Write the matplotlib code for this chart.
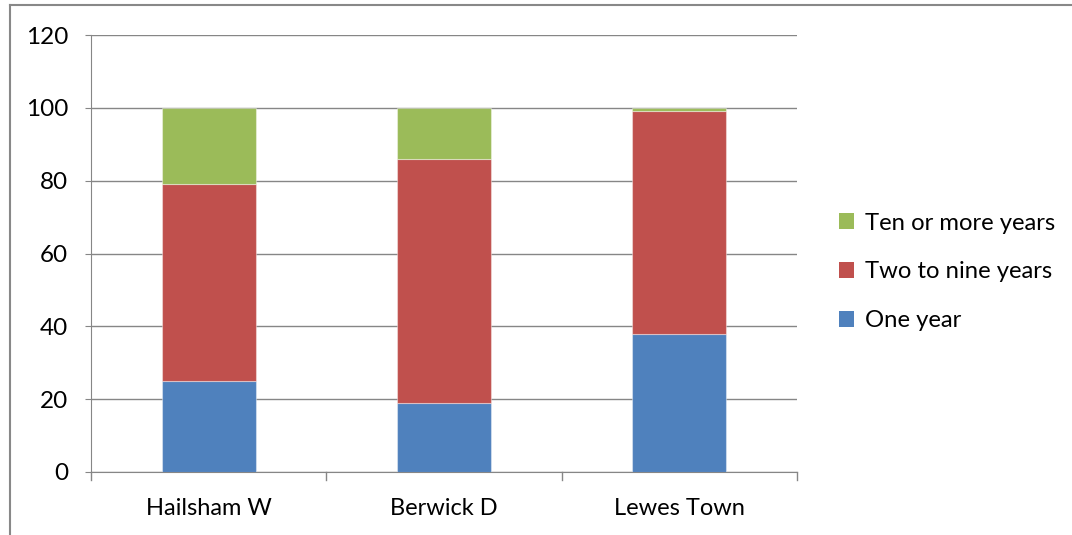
import matplotlib
matplotlib.use("Agg")
import matplotlib.pyplot as plt
from matplotlib.patches import Patch
from matplotlib.lines import Line2D

categories = ["Hailsham W", "Berwick D", "Lewes Town"]
one_year = [25, 19, 38]
two_to_nine = [54, 67, 61]
ten_or_more = [21, 14, 1]
series_names = ["One year", "Two to nine years", "Ten or more years"]
colors = ["#4F81BD", "#C0504D", "#9BBB59"]
yticks = [0, 20, 40, 60, 80, 100, 120]

plt.rcParams['font.family'] = ['Lato', 'DejaVu Sans']

fig = plt.figure(figsize=(10.72, 5.35), dpi=100)
ax = fig.add_axes([91/1072, 1-472/535, (797-91)/1072, (472-35)/535])

x = list(range(len(categories)))
bottom = [0]*len(categories)
for vals, name, c in zip([one_year, two_to_nine, ten_or_more], series_names, colors):
    ax.bar(x, vals, width=0.4, bottom=bottom, color=c, label=name, zorder=3,
           edgecolor=(1, 1, 1, 0.4), linewidth=0.8)
    bottom = [b + v for b, v in zip(bottom, vals)]

grid_c = "#868686"
ax.set_xlim(-0.5, len(categories) - 0.5)
ax.set_ylim(0, 120)
ax.set_yticks(yticks)
ax.set_yticklabels([str(t) for t in yticks], fontsize=17.5)
ax.yaxis.grid(True, color=grid_c, linewidth=1, zorder=0)
ax.set_axisbelow(True)
for s in ["top", "right"]:
    ax.spines[s].set_visible(False)
ax.spines["left"].set_color(grid_c)
ax.spines["bottom"].set_color(grid_c)
ax.tick_params(axis="y", length=4.3, color=grid_c, pad=12)
ax.set_xticks(x)
ax.set_xticklabels(categories, fontsize=17)
ax.tick_params(axis="x", length=0, pad=19)
# category boundary ticks
for b in [-0.5, 0.5, 1.5, 2.5]:
    ax.plot([b, b], [0, -2.2], color=grid_c, linewidth=1, clip_on=False, zorder=4)

handles = [Patch(facecolor=c, label=n) for c, n in zip(colors, series_names)][::-1]
fig.legend(handles=handles, loc="center left", bbox_to_anchor=(817/1072, 1-272/535),
           frameon=False, fontsize=17.2, handlelength=0.65, handleheight=0.65,
           labelspacing=1.17, handletextpad=0.45)

# outer frame fragments
fig.add_artist(Line2D([10/1072, 10/1072], [0, 1-5/535], color="#888888", linewidth=1.5))
fig.add_artist(Line2D([10/1072, 1], [1-5/535, 1-5/535], color="#888888", linewidth=1.5))

fig.savefig("out.png", dpi=100)
